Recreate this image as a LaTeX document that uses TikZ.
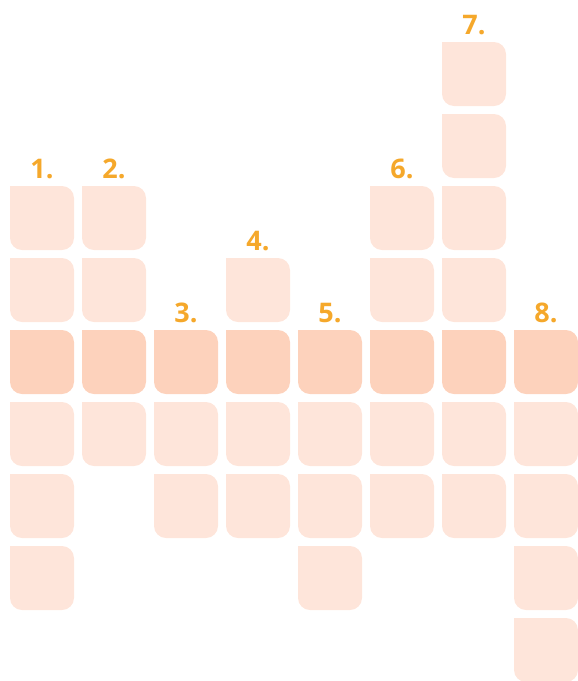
\documentclass[tikz,border=0pt]{standalone}
\usepackage{fontspec}
\setmainfont{Open Sans}
\definecolor{tilelight}{HTML}{FEE5DA}
\definecolor{tiledark}{HTML}{FDD2BC}
\definecolor{labelorange}{HTML}{F5A82B}
\newcommand\tilebox[3]{%
  \fill[#3] ({10+72*#1},{-(42+72*#2)}) -- ++(52,0)
    arc[start angle=90,end angle=0,radius=12pt] -- ++(0,-40)
    arc[start angle=0,end angle=-90,radius=12pt] -- ++(-40,0)
    arc[start angle=-90,end angle=-180,radius=12pt] -- cycle;}
\begin{document}
\begin{tikzpicture}[x=1pt,y=1pt,
  collabel/.style={font=\fontsize{27}{30}\selectfont\bfseries, text=labelorange, inner sep=0pt, anchor=center}]
\useasboundingbox (0,0) rectangle (578,-681);
\foreach \c/\a/\b in {0/2/7,1/2/5,2/4/6,3/3/6,4/4/7,5/2/6,6/0/6,7/4/8}{
  \foreach \r in {\a,...,\b}{
    \ifnum\r=4 \tilebox{\c}{\r}{tiledark}\else\tilebox{\c}{\r}{tilelight}\fi
  }
  \pgfmathtruncatemacro\n{\c+1}
  \node[collabel] (lab\n) at ({42+72*\c},{-(42+72*\a-17)}) {\n.};
}
\end{tikzpicture}
\end{document}
